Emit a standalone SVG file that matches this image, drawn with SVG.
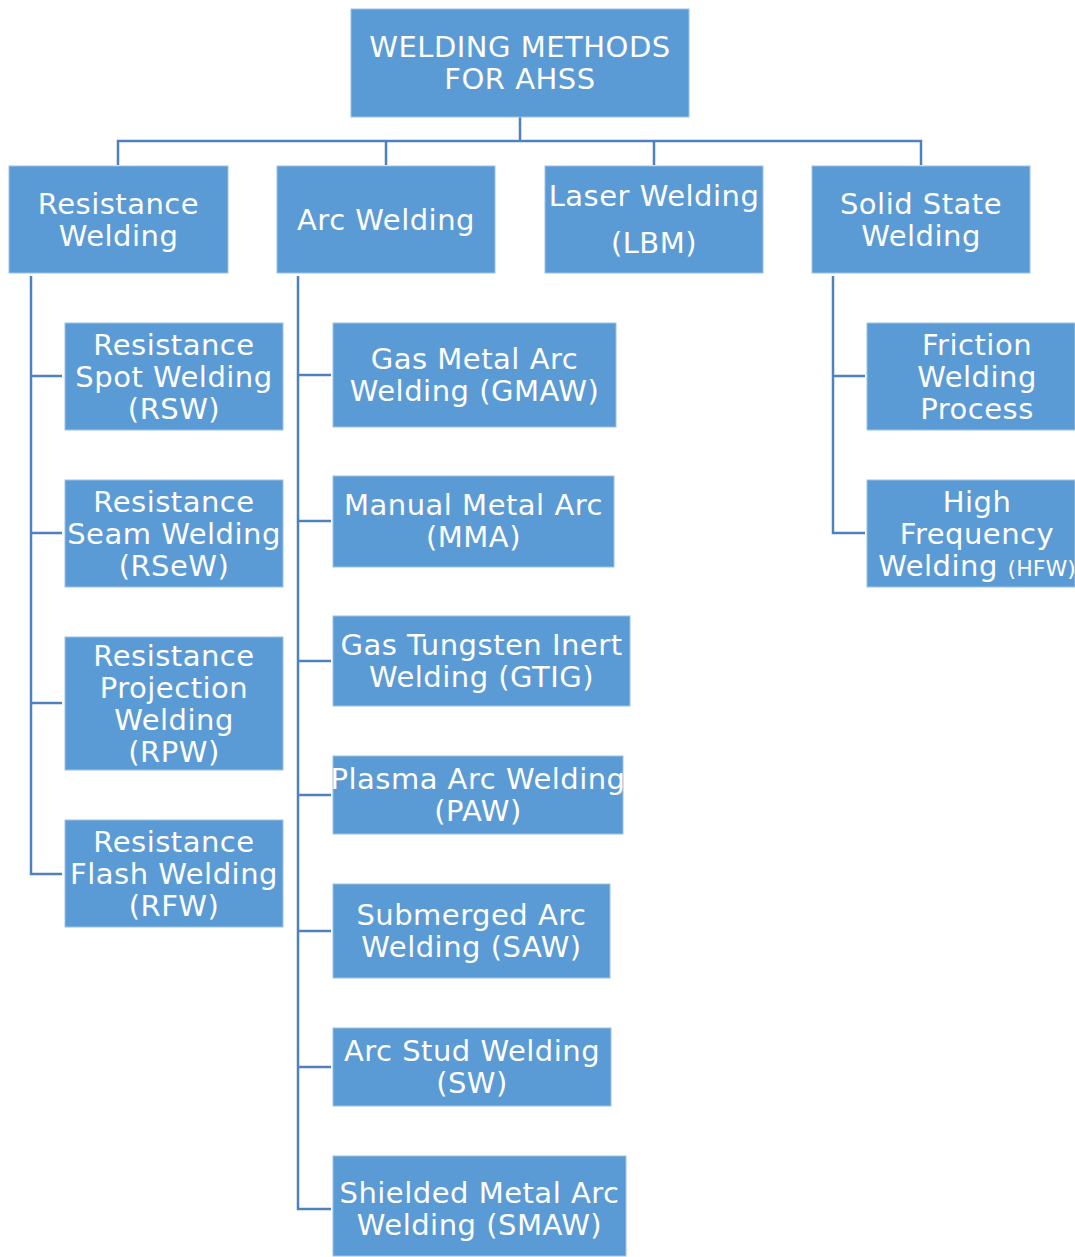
<svg xmlns="http://www.w3.org/2000/svg" width="1075" height="1257" viewBox="0 0 1075 1257">
<style>
.b{fill:#5B9BD5;stroke:#9CC2E5;stroke-width:1}
.t{font-family:"DejaVu Sans",Verdana,sans-serif;font-size:29px;letter-spacing:0.5px;fill:#FFFFFF;text-anchor:middle}
.s{font-size:22px;letter-spacing:0}
.c{fill:none;stroke:#4F81BD;stroke-width:2.5}
</style>
<g id="connectors">
<path class="c" d="M520,117 V141 M118,165 V141 H921 V165 M386,141 V165 M654,141 V165"/>
<path class="c" d="M31,276 V874 H62 M31,376 H62 M31,533 H62 M31,703 H62"/>
<path class="c" d="M298,276 V1209 H331 M298,375 H331 M298,521 H331 M298,661 H331 M298,795 H331 M298,931 H331 M298,1067 H331"/>
<path class="c" d="M833,276 V533 H865 M833,376 H865"/>
</g>
<g id="root"><rect class="b" x="351" y="9" width="338" height="108"/><text class="t" x="520" y="57">WELDING METHODS</text><text class="t" x="520" y="89">FOR AHSS</text></g>
<g id="resistance"><rect class="b" x="9" y="166" width="219" height="107"/><text class="t" x="118.5" y="214">Resistance</text><text class="t" x="118.5" y="246">Welding</text></g>
<g id="arc"><rect class="b" x="277" y="166" width="218" height="107"/><text class="t" x="386" y="230">Arc Welding</text></g>
<g id="laser"><rect class="b" x="545" y="166" width="218" height="107"/><text class="t" x="654" y="206">Laser Welding</text><text class="t" x="654" y="253">(LBM)</text></g>
<g id="solid"><rect class="b" x="812" y="166" width="218" height="107"/><text class="t" x="921" y="214">Solid State</text><text class="t" x="921" y="246">Welding</text></g>
<g id="rsw"><rect class="b" x="65" y="323" width="218" height="107"/><text class="t" x="174" y="355">Resistance</text><text class="t" x="174" y="387">Spot Welding</text><text class="t" x="174" y="419">(RSW)</text></g>
<g id="rsew"><rect class="b" x="65" y="480" width="218" height="107"/><text class="t" x="174" y="512">Resistance</text><text class="t" x="174" y="544">Seam Welding</text><text class="t" x="174" y="576">(RSeW)</text></g>
<g id="rpw"><rect class="b" x="65" y="637" width="218" height="133"/><text class="t" x="174" y="666">Resistance</text><text class="t" x="174" y="698">Projection</text><text class="t" x="174" y="730">Welding</text><text class="t" x="174" y="762">(RPW)</text></g>
<g id="rfw"><rect class="b" x="65" y="820" width="218" height="107"/><text class="t" x="174" y="852">Resistance</text><text class="t" x="174" y="884">Flash Welding</text><text class="t" x="174" y="916">(RFW)</text></g>
<g id="gmaw"><rect class="b" x="333" y="323" width="283" height="104"/><text class="t" x="474.5" y="369">Gas Metal Arc</text><text class="t" x="474.5" y="401">Welding (GMAW)</text></g>
<g id="mma"><rect class="b" x="333" y="476" width="281" height="91"/><text class="t" x="473.5" y="515">Manual Metal Arc</text><text class="t" x="473.5" y="547">(MMA)</text></g>
<g id="gtig"><rect class="b" x="333" y="616" width="297" height="90"/><text class="t" x="481.5" y="655">Gas Tungsten Inert</text><text class="t" x="481.5" y="687">Welding (GTIG)</text></g>
<g id="paw"><rect class="b" x="333" y="756" width="290" height="78"/><text class="t" x="478" y="789">Plasma Arc Welding</text><text class="t" x="478" y="821">(PAW)</text></g>
<g id="saw"><rect class="b" x="333" y="884" width="277" height="94"/><text class="t" x="471.5" y="925">Submerged Arc</text><text class="t" x="471.5" y="957">Welding (SAW)</text></g>
<g id="sw"><rect class="b" x="333" y="1028" width="278" height="78"/><text class="t" x="472" y="1061">Arc Stud Welding</text><text class="t" x="472" y="1093">(SW)</text></g>
<g id="smaw"><rect class="b" x="333" y="1156" width="293" height="100"/><text class="t" x="479.5" y="1203">Shielded Metal Arc</text><text class="t" x="479.5" y="1235">Welding (SMAW)</text></g>
<g id="friction"><rect class="b" x="867" y="323" width="208" height="107"/><text class="t" x="977" y="355">Friction</text><text class="t" x="977" y="387">Welding</text><text class="t" x="977" y="419">Process</text></g>
<g id="hfw"><rect class="b" x="867" y="480" width="208" height="107"/><text class="t" x="977" y="512">High</text><text class="t" x="977" y="544">Frequency</text><text class="t" x="977" y="576">Welding <tspan class="s">(HFW)</tspan></text></g>
</svg>
